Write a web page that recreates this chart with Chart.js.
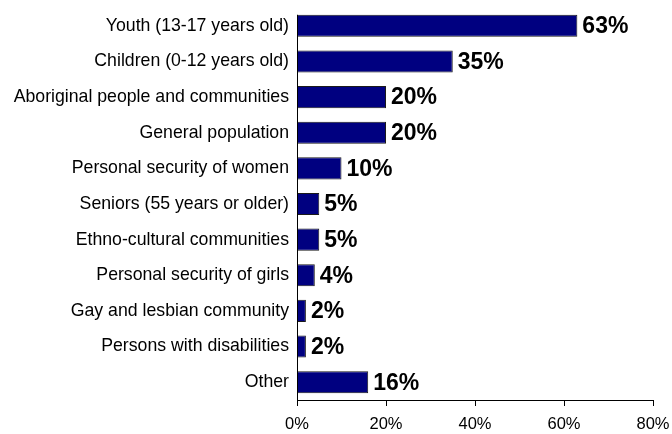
<!DOCTYPE html>
<html>
<head>
<meta charset="utf-8">
<script src="https://cdn.jsdelivr.net/npm/chart.js@4/dist/chart.umd.min.js"></script>
<style>
  html, body { margin: 0; padding: 0; background: #fff; }
  #contenedor { width: 672px; height: 434px; }
</style>
</head>
<body>
<div id="contenedor"><canvas id="grupos-prioritarios"></canvas></div>
<script>
const categorias = [
  'Youth (13-17 years old)',
  'Children (0-12 years old)',
  'Aboriginal people and communities',
  'General population',
  'Personal security of women',
  'Seniors (55 years or older)',
  'Ethno-cultural communities',
  'Personal security of girls',
  'Gay and lesbian community',
  'Persons with disabilities',
  'Other'
];
const porcentajes = [63, 35, 20, 20, 10, 5, 5, 4, 2, 2, 16];
const marcasEje = [0, 20, 40, 60, 80];

const fuente = "'Liberation Sans', Arial, sans-serif";

// escribe el porcentaje al final de cada barra y la linea del eje vertical
const etiquetasValor = {
  id: 'etiquetasValor',
  afterDatasetsDraw(chart) {
    const ctx = chart.ctx;
    const barras = chart.getDatasetMeta(0).data;
    const area = chart.chartArea;
    ctx.save();
    ctx.strokeStyle = '#000';
    ctx.lineWidth = 1;
    ctx.beginPath();
    ctx.moveTo(area.left + 0.5, barras[0].y - barras[0].height / 2);
    ctx.lineTo(area.left + 0.5, area.bottom);
    ctx.stroke();

    ctx.font = 'bold 23px ' + fuente;
    ctx.fillStyle = '#000';
    ctx.textBaseline = 'middle';
    barras.forEach((barra, i) => {
      ctx.fillText(porcentajes[i] + '%', barra.x + 5, barra.y + 1);
    });
    ctx.restore();
  }
};

const ctx = document.getElementById('grupos-prioritarios');
new Chart(ctx, {
  type: 'bar',
  data: {
    labels: categorias,
    datasets: [{
      data: porcentajes,
      backgroundColor: '#000080',
      borderColor: '#1a1a1a',
      borderWidth: 1,
      barPercentage: 0.62,
      categoryPercentage: 1
    }]
  },
  plugins: [etiquetasValor],
  options: {
    indexAxis: 'y',
    responsive: true,
    maintainAspectRatio: false,
    animation: false,
    layout: {
      padding: { top: 8, right: 0, bottom: 0, left: 0 }
    },
    plugins: {
      legend: { display: false },
      tooltip: { enabled: false }
    },
    scales: {
      x: {
        min: 0,
        max: 80,
        afterBuildTicks: (eje) => {
          eje.ticks = marcasEje.map((v) => ({ value: v }));
        },
        afterFit: (eje) => {
          eje.height = 34;
          eje.paddingRight = 19;
          eje.paddingLeft = 0;
        },
        ticks: {
          callback: (v) => v + '%',
          color: '#000',
          padding: 9,
          maxRotation: 0,
          font: { size: 16.5, family: fuente }
        },
        grid: {
          drawOnChartArea: false,
          drawTicks: true,
          tickLength: 6,
          color: '#000'
        },
        border: { display: true, color: '#000', width: 1 }
      },
      y: {
        afterFit: (eje) => {
          eje.width = 297;
          eje.paddingTop = 0;
          eje.paddingBottom = 0;
        },
        ticks: {
          color: '#000',
          padding: 8,
          font: { size: 17.7, family: fuente }
        },
        grid: { display: false, tickLength: 0 },
        border: { display: false }
      }
    }
  }
});
</script>
</body>
</html>
